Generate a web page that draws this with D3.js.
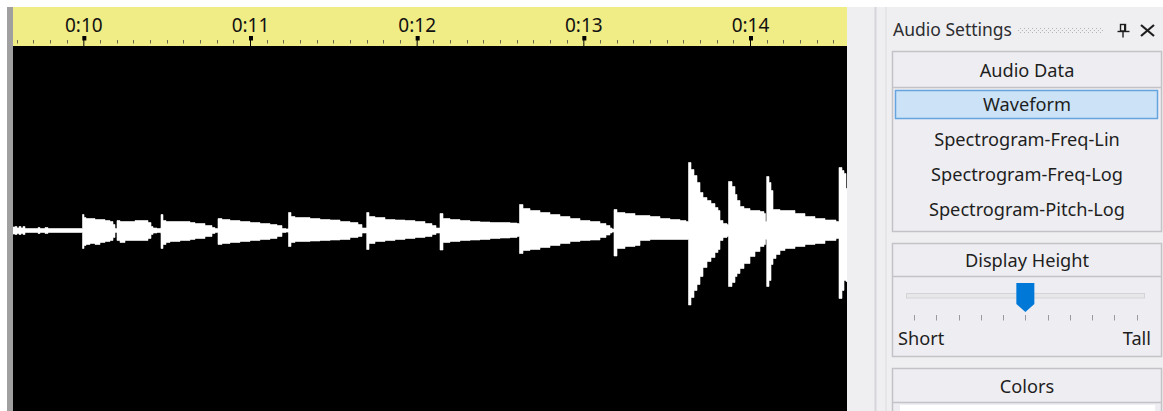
<!DOCTYPE html>
<html><head><meta charset="utf-8">
<script src="https://cdn.jsdelivr.net/npm/d3@7"></script>
<style>html,body{margin:0;padding:0;background:#fff;overflow:hidden}svg{display:block}</style>
</head><body><svg id="c" width="1163" height="411"></svg>
<script>
// ---- data ----
const majorTicks = [10, 11, 12, 13, 14];
const majorLabels = ["0:10", "0:11", "0:12", "0:13", "0:14"];
const viewStart = 9.578, viewEnd = 14.582; // seconds visible

const waveTime = [
  9.578,9.590,9.602,9.614,9.626,9.638,9.650,9.680,9.716,9.728,9.740,9.770,9.788,9.830,9.986,9.992,
  9.995,10.004,10.016,10.040,10.070,10.100,10.130,10.160,10.178,10.190,
  10.199,10.202,10.220,10.250,10.280,10.310,10.340,10.370,10.388,10.406,10.418,10.442,10.463,
  10.466,10.478,10.496,10.520,10.580,10.640,10.670,10.730,10.772,10.790,10.805,
  10.808,10.832,10.880,10.940,11.000,11.060,11.120,11.162,11.192,11.216,11.228,
  11.231,11.246,11.270,11.300,11.360,11.420,11.480,11.540,11.600,11.648,11.672,11.696,
  11.700,11.714,11.750,11.810,11.870,11.930,11.990,12.050,12.092,12.116,12.137,
  12.140,12.158,12.200,12.260,12.320,12.380,12.440,12.500,12.560,12.602,12.614,
  12.617,12.638,12.680,12.740,12.800,12.860,12.920,12.980,13.040,13.100,13.136,13.160,13.172,13.181,
  13.184,13.202,13.250,13.310,13.340,13.400,13.460,13.520,13.580,13.616,13.628,
  13.631,13.646,13.664,13.682,13.700,13.718,13.742,13.766,13.790,13.808,13.820,13.838,13.862,13.868,
  13.871,13.892,13.910,13.922,13.940,13.964,14.000,14.030,14.060,14.084,14.093,14.096,
  14.100,14.114,14.126,14.138,14.156,14.180,14.210,14.270,14.330,14.390,14.450,14.516,14.531,
  14.534,14.552,14.564,14.576,14.582
];
const waveMax = [
  .0175,.020,.0125,.020,.0125,.020,.010,.010,.010,.015,.010,.015,.010,.010,.010,.010,
  .080,.065,.060,.060,.055,.055,.050,.045,.030,.010,
  .010,.050,.045,.045,.045,.050,.050,.050,.040,.020,.0125,.010,.0125,
  .080,.050,.045,.045,.045,.040,.035,.025,.015,.010,.010,
  .060,.055,.050,.045,.040,.035,.030,.025,.010,.0075,.010,
  .090,.070,.065,.065,.060,.055,.0525,.045,.040,.030,.0125,.0125,
  .090,.070,.065,.055,.0525,.050,.045,.035,.025,.0125,.0125,
  .085,.060,.055,.050,.045,.0425,.040,.040,.0375,.035,.035,
  .130,.110,.100,.090,.080,.070,.060,.050,.045,.035,.025,.0125,.0075,.0075,
  .105,.090,.085,.075,.075,.070,.060,.055,.050,.045,.045,
  .340,.305,.275,.240,.190,.165,.150,.135,.115,.100,.050,.035,.030,.030,
  .245,.220,.180,.150,.120,.110,.100,.100,.095,.085,.045,.045,
  .270,.240,.200,.105,.105,.100,.100,.085,.070,.060,.0525,.045,.045,
  .315,.300,.285,.210,.200
];
const waveMin = [
  -.0175,-.020,-.015,-.020,-.015,-.020,-.010,-.010,-.010,-.015,-.010,-.015,-.010,-.010,-.010,-.010,
  -.090,-.075,-.070,-.065,-.070,-.060,-.055,-.050,-.035,-.010,
  -.010,-.050,-.060,-.050,-.050,-.050,-.050,-.050,-.040,-.020,-.0125,-.010,-.0125,
  -.090,-.070,-.060,-.055,-.050,-.045,-.040,-.030,-.015,-.010,-.010,
  -.070,-.065,-.060,-.055,-.050,-.045,-.040,-.030,-.010,-.0075,-.010,
  -.080,-.060,-.055,-.055,-.0525,-.050,-.0475,-.045,-.035,-.030,-.0125,-.0125,
  -.095,-.065,-.055,-.050,-.045,-.040,-.035,-.030,-.020,-.0125,-.0125,
  -.0975,-.060,-.055,-.050,-.0475,-.045,-.040,-.0375,-.035,-.030,-.030,
  -.115,-.100,-.095,-.085,-.075,-.065,-.055,-.050,-.0475,-.035,-.0225,-.0125,-.0075,-.0075,
  -.1275,-.090,-.080,-.075,-.050,-.045,-.045,-.045,-.045,-.045,-.045,
  -.3725,-.335,-.300,-.270,-.230,-.185,-.155,-.135,-.110,-.095,-.050,-.035,-.030,-.030,
  -.280,-.260,-.230,-.215,-.190,-.165,-.130,-.105,-.080,-.070,-.045,-.045,
  -.280,-.250,-.170,-.140,-.120,-.100,-.090,-.080,-.070,-.065,-.050,-.040,-.040,
  -.340,-.300,-.250,-.255,-.250
];

const panelTitle = "Audio Settings";
const dataHeader = "Audio Data";
const dataModes = ["Waveform", "Spectrogram-Freq-Lin", "Spectrogram-Freq-Log", "Spectrogram-Pitch-Log"];
const selectedMode = "Waveform";
const heightHeader = "Display Height";
const heightTicks = [0, 1, 2, 3, 4, 5, 6, 7, 8, 9, 10];
const heightValue = 5;
const heightEnds = ["Short", "Tall"];
const colorsHeader = "Colors";

// ---- drawing ----
const svg = d3.select("#c");
const FONT = "'Noto Sans', 'Open Sans', sans-serif";
const FS = 18.2;

svg.append("rect").attr("width", 1163).attr("height", 411).attr("fill", "#ffffff");

// waveform view
const x = d3.scaleLinear().domain([viewStart, viewEnd]).range([13, 847]);
const y = d3.scaleLinear().domain([-1, 1]).range([430.5, 30.5]);

svg.append("rect").attr("x", 7).attr("y", 7).attr("width", 6).attr("height", 404).attr("fill", "#a0a0a0");
svg.append("rect").attr("x", 13).attr("y", 7).attr("width", 834).attr("height", 39).attr("fill", "#f0ec86");
svg.append("rect").attr("x", 13).attr("y", 46).attr("width", 834).attr("height", 365).attr("fill", "#000");

svg.append("clipPath").attr("id", "plot").append("rect")
  .attr("x", 13).attr("y", 46).attr("width", 834).attr("height", 365);

const idx = d3.range(waveTime.length);
const area = d3.area()
  .curve(d3.curveStepAfter)
  .x(i => x(waveTime[i]))
  .y0(i => y(waveMin[i]))
  .y1(i => y(waveMax[i]));
svg.append("path").attr("clip-path", "url(#plot)")
  .attr("d", area(idx)).attr("fill", "#fff").attr("stroke", "#fff").attr("stroke-width", 0.6);

// ruler minor ticks
const minor = x.ticks(50).filter(v => Math.abs(v - Math.round(v)) > 1e-6);
svg.append("g").selectAll("line").data(minor).join("line")
  .attr("x1", d => Math.round(x(d)) + 0.5).attr("x2", d => Math.round(x(d)) + 0.5)
  .attr("y1", 40).attr("y2", 43.5).attr("stroke", "#6a6a50").attr("stroke-width", 1);

// ruler major axis
const axis = d3.axisTop(x).tickValues(majorTicks)
  .tickFormat((d, i) => majorLabels[i]).tickSize(10).tickPadding(4);
const gA = svg.append("g").attr("transform", "translate(0,46)").call(axis);
gA.select(".domain").remove();
gA.selectAll(".tick line").attr("stroke", "#000").attr("stroke-width", 1);
gA.selectAll(".tick text").attr("font-family", FONT).attr("font-size", 19).attr("fill", "#111");
gA.selectAll(".tick").append("rect").attr("x", -1.5).attr("y", -10).attr("width", 4).attr("height", 4.5).attr("fill", "#000");

// ---- right panel ----
svg.append("rect").attr("x", 847).attr("y", 7).attr("width", 316).attr("height", 404).attr("fill", "#efeff2");
svg.append("line").attr("x1", 875.5).attr("x2", 875.5).attr("y1", 7).attr("y2", 411).attr("stroke", "#d6d6da").attr("stroke-width", 2);
svg.append("line").attr("x1", 886).attr("x2", 886).attr("y1", 7).attr("y2", 411).attr("stroke", "#dcdce0").attr("stroke-width", 1);

svg.append("text").attr("x", 893).attr("y", 36).text(panelTitle)
  .attr("font-family", FONT).attr("font-size", 17.5).attr("fill", "#2d2d30");

// grip dots
const defs = svg.append("defs");
const pat = defs.append("pattern").attr("id", "grip").attr("patternUnits", "userSpaceOnUse")
  .attr("width", 4).attr("height", 4);
pat.append("rect").attr("x", 0).attr("y", 0).attr("width", 1).attr("height", 1).attr("fill", "#b4b4b8");
pat.append("rect").attr("x", 2).attr("y", 2).attr("width", 1).attr("height", 1).attr("fill", "#b4b4b8");
svg.append("rect").attr("x", 1018).attr("y", 27).attr("width", 86).attr("height", 7).attr("fill", "url(#grip)");

// pin icon
const pin = svg.append("g").attr("stroke", "#1e1e1e").attr("fill", "none").attr("stroke-width", 1.4);
pin.append("rect").attr("x", 1120.5).attr("y", 24.5).attr("width", 5).attr("height", 6.5);
pin.append("line").attr("x1", 1124.8).attr("x2", 1124.8).attr("y1", 24.5).attr("y2", 31).attr("stroke-width", 1.6);
pin.append("line").attr("x1", 1117.5).attr("x2", 1129.5).attr("y1", 31.5).attr("y2", 31.5);
pin.append("line").attr("x1", 1123).attr("x2", 1123).attr("y1", 31.5).attr("y2", 37.5);
// close icon
const cl = svg.append("g").attr("stroke", "#1e1e1e").attr("stroke-width", 2.2);
cl.append("line").attr("x1", 1141).attr("y1", 25).attr("x2", 1154).attr("y2", 36);
cl.append("line").attr("x1", 1154).attr("y1", 25).attr("x2", 1141).attr("y2", 36);

const boxX = 892.5, boxW = 269, cx = boxX + boxW / 2;
function group(top, bottom, header, sepY, baseY) {
  svg.append("rect").attr("x", boxX).attr("y", top).attr("width", boxW).attr("height", bottom - top)
    .attr("fill", "#eeeef2").attr("stroke", "#c3c3c7").attr("stroke-width", 1.5);
  svg.append("line").attr("x1", boxX).attr("x2", boxX + boxW).attr("y1", sepY).attr("y2", sepY)
    .attr("stroke", "#c3c3c7").attr("stroke-width", 1.5);
  svg.append("text").attr("x", cx).attr("y", baseY).attr("text-anchor", "middle").text(header)
    .attr("font-family", FONT).attr("font-size", FS).attr("fill", "#1e1e1e");
}

group(51.5, 231.5, dataHeader, 87.5, 77);
const rowY = d3.scalePoint().domain(dataModes).range([104.5, 209.5]);
svg.append("rect").attr("x", 895.5).attr("y", rowY(selectedMode) - 14)
  .attr("width", 262).attr("height", 28).attr("fill", "#cce2f6").attr("stroke", "#64a5e0").attr("stroke-width", 1.5);
svg.append("g").selectAll("text").data(dataModes).join("text")
  .attr("x", cx).attr("y", d => rowY(d) + 6.5).attr("text-anchor", "middle").text(d => d)
  .attr("font-family", FONT).attr("font-size", FS).attr("fill", "#1e1e1e");

group(243.5, 356.5, heightHeader, 276.5, 267);
const sx = d3.scaleLinear().domain([0, 10]).range([914, 1136.7]);
svg.append("rect").attr("x", 906.5).attr("y", 293.5).attr("width", 238).attr("height", 4.5)
  .attr("fill", "#e7e7e9").attr("stroke", "#d4d4d8").attr("stroke-width", 1);
svg.append("g").selectAll("line").data(heightTicks).join("line")
  .attr("x1", d => Math.round(sx(d)) + 0.5).attr("x2", d => Math.round(sx(d)) + 0.5)
  .attr("y1", 315).attr("y2", 320.5).attr("stroke", "#9a9a9e").attr("stroke-width", 1);
const tx = sx(heightValue);
svg.append("path").attr("d", `M${tx - 9},283 L${tx + 9},283 L${tx + 9},304 L${tx},312 L${tx - 9},304 Z`)
  .attr("fill", "#0078d7");
svg.append("text").attr("x", 898).attr("y", 345).text(heightEnds[0])
  .attr("font-family", FONT).attr("font-size", FS).attr("fill", "#1e1e1e");
svg.append("text").attr("x", 1151).attr("y", 345).attr("text-anchor", "end").text(heightEnds[1])
  .attr("font-family", FONT).attr("font-size", FS).attr("fill", "#1e1e1e");

group(368.5, 430, colorsHeader, 402.5, 393);
svg.append("rect").attr("x", 900).attr("y", 405).attr("width", 255).attr("height", 10).attr("fill", "#fff");
</script></body></html>
